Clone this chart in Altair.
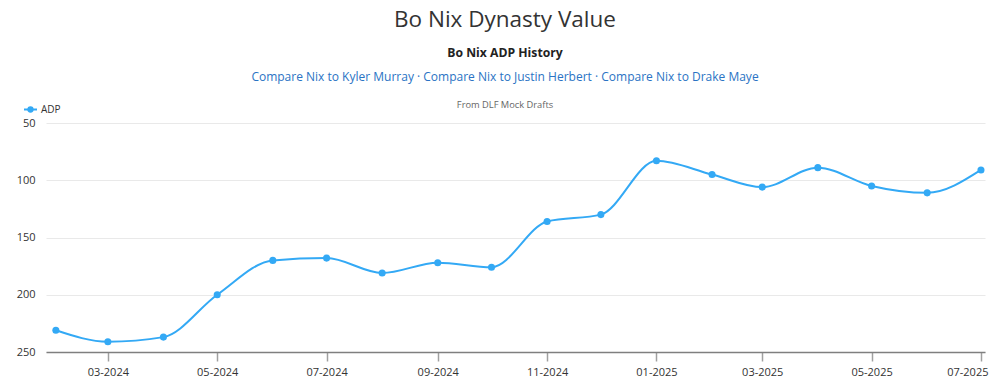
import altair as alt
import pandas as pd

# ---- data ----
months = ["2024-02-01", "2024-03-01", "2024-04-01", "2024-05-01", "2024-06-01", "2024-07-01",
          "2024-08-01", "2024-09-01", "2024-10-01", "2024-11-01", "2024-12-01", "2025-01-01",
          "2025-02-01", "2025-03-01", "2025-04-01", "2025-05-01", "2025-06-01", "2025-07-01"]
adp = [231, 241, 237, 200, 170, 168, 181, 172, 176, 136, 130, 83, 95, 106, 89, 105, 111, 91]
tick_months = ["2024-03-01", "2024-05-01", "2024-07-01", "2024-09-01", "2024-11-01",
               "2025-01-01", "2025-03-01", "2025-05-01", "2025-07-01"]
y_ticks = [50, 100, 150, 200, 250]

title_text = "Bo Nix Dynasty Value"
chart_title = "Bo Nix ADP History"
links_text = "Compare Nix to Kyler Murray · Compare Nix to Justin Herbert · Compare Nix to Drake Maye"
source_text = "From DLF Mock Drafts"
series_name = "ADP"

FONT = "Open Sans"
BLUE = "#33a9f5"

df = pd.DataFrame({"month": months, "adp": adp, "series": series_name})


def dt(s, h=0):
    y, m, d = (int(v) for v in s.split("-"))
    return alt.DateTime(year=y, month=m, date=d, hours=h, utc=True)


x_enc = alt.X(
    "month:T",
    scale=alt.Scale(type="utc", domain=[dt("2024-01-26", 12), dt("2025-07-03", 6)], nice=False),
    axis=alt.Axis(
        title=None,
        values=[dt(s) for s in tick_months],
        labelExpr="utcFormat(datum.value, '%m-%Y')",
        grid=False,
        domainColor="#7f7f7f",
        domainWidth=1.5,
        tickColor="#a0a0a0",
        tickSize=9,
        tickWidth=1.5,
        labelFont=FONT,
        labelFontSize=11,
        labelColor="#333333",
        labelPadding=5,
        labelFlush=8,
        labelFlushOffset=7,
    ),
)
y_enc = alt.Y(
    "adp:Q",
    scale=alt.Scale(domain=[50, 250], reverse=True, nice=False, zero=False),
    axis=alt.Axis(
        title=None,
        values=y_ticks,
        domain=False,
        ticks=False,
        gridColor="#e9e9e9",
        gridWidth=1,
        labelFont=FONT,
        labelFontSize=11,
        labelColor="#333333",
        labelPadding=11,
    ),
)

base = alt.Chart(df)
line = base.mark_line(color=BLUE, strokeWidth=2, interpolate="monotone").encode(x=x_enc, y=y_enc)
pts = base.mark_point(color=BLUE, filled=True, size=50, opacity=1).encode(x=x_enc, y=y_enc)

CX = 459


def txt(s, y, size, color, weight="normal", baseline="alphabetic"):
    return alt.Chart(pd.DataFrame({"t": [s]})).mark_text(
        font=FONT, fontSize=size, color=color, fontWeight=weight,
        align="center", baseline=baseline,
    ).encode(text="t:N", x=alt.value(CX), y=alt.value(y))


t1 = txt(title_text, -114, 22.5, "#333333", baseline="top")
t2 = txt(chart_title, -66, 12.2, "#222222", "bold")
t3 = txt(links_text, -42, 12, "#2a73c4")
t4 = txt(source_text, -15, 9.3, "#666666")

leg_df = pd.DataFrame({"t": [series_name]})
leg_line = alt.Chart(leg_df).mark_rule(color=BLUE, strokeWidth=2).encode(
    x=alt.value(-22), x2=alt.value(-9), y=alt.value(-13.5))
leg_pt = alt.Chart(leg_df).mark_point(color=BLUE, filled=True, size=40, opacity=1).encode(
    x=alt.value(-15.5), y=alt.value(-13.5))
leg_txt = alt.Chart(leg_df).mark_text(
    font=FONT, fontSize=10, color="#333333", align="left", baseline="middle"
).encode(text="t:N", x=alt.value(-5), y=alt.value(-13.5))

chart = alt.layer(line, pts, t1, t2, t3, t4, leg_line, leg_pt, leg_txt).properties(
    width=939,
    height=229,
    autosize=alt.AutoSizeParams(type="none"),
    padding={"left": 38, "top": 115, "right": 4, "bottom": 28},
).configure_view(stroke=None)

chart.save("out.html", embed_options={"renderer": "svg", "actions": False})
